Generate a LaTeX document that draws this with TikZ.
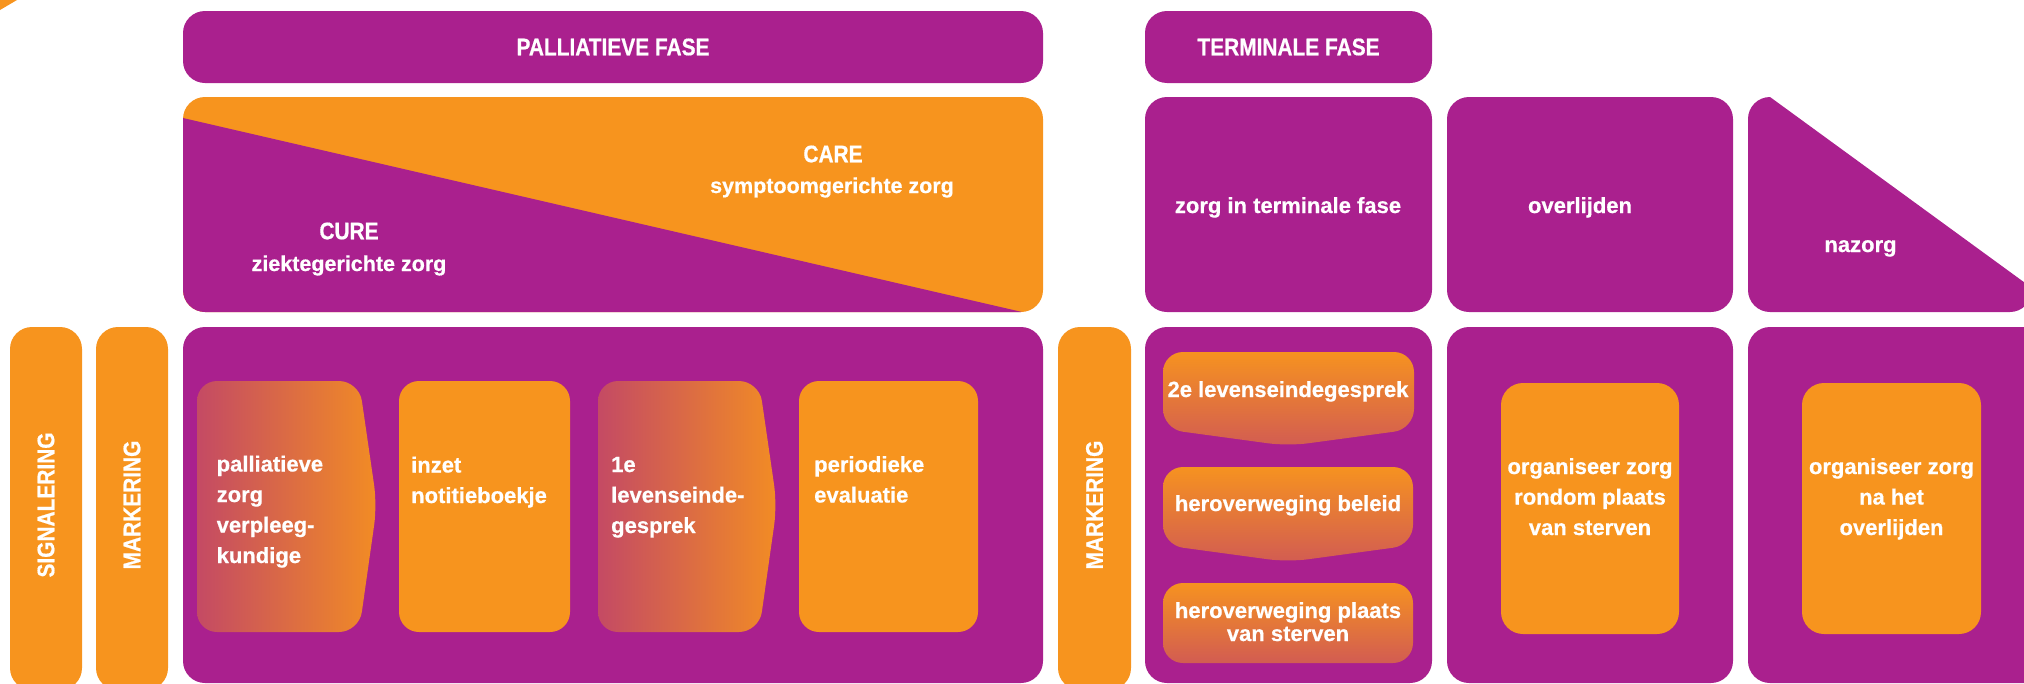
\documentclass[tikz,border=0pt]{standalone}
\usepackage{fontspec}
\setmainfont{Liberation Sans}
\newfontfamily\bodyfont{Liberation Sans Bold}[FakeBold=0.6]
\newfontfamily\capsfont{Liberation Sans Bold}[FakeStretch=0.87,FakeBold=0.6]
\definecolor{pur}{RGB}{170,32,142}
\definecolor{org}{RGB}{247,148,30}
\definecolor{gl}{RGB}{196,74,100}
\definecolor{gr}{RGB}{242,140,36}
\definecolor{gt}{RGB}{246,146,32}
\definecolor{gb}{RGB}{210,92,82}
\begin{document}
\begin{tikzpicture}[x=1pt,y=-1pt,
  pbox/.style={fill=pur, rounded corners=22pt},
  obox/.style={fill=org, rounded corners=22pt},
  hgrad/.style={left color=gl, right color=gr, rounded corners=20pt},
  vgrad/.style={top color=gt, bottom color=gb, rounded corners=20pt},
  captxt/.style={text=white, inner sep=0pt, font=\capsfont\fontsize{24}{28}\selectfont},
  lowtxt/.style={text=white, inner sep=0pt, font=\bodyfont\fontsize{22}{30.5}\selectfont},
  lefttxt/.style={lowtxt, align=left, anchor=base west},
  midtxt/.style={lowtxt, align=center, anchor=base}
]
\useasboundingbox (0,0) rectangle (2024,683);
\clip (0,0) rectangle (2024,683);
% corner mark
\fill[org] (0,0) -- (17,0) -- (0,10) -- cycle;
% ---- row 1
\fill[pbox] (183,11) rectangle (1043,83);
\node[captxt] (pal) at (613,47) {PALLIATIEVE FASE};
\fill[pbox] (1145,11) rectangle (1432,83);
\node[captxt] (ter) at (1288.5,47) {TERMINALE FASE};
% ---- row 2
\fill[obox] (183,97) rectangle (1043,312);
\begin{scope}
  \clip[rounded corners=22pt] (183,97) rectangle (1043,312);
  \fill[pur] (183,118) -- (1022,312) -- (183,312) -- cycle;
\end{scope}
\node[captxt] (care) at (833,154) {CARE};
\node[midtxt, font=\bodyfont\fontsize{21.5}{26}\selectfont] (caresub) at (832,193) {symptoomgerichte zorg};
\node[captxt] (cure) at (349,231) {CURE};
\node[midtxt, font=\bodyfont\fontsize{21.5}{26}\selectfont] (curesub) at (349,271) {ziektegerichte zorg};
\fill[pbox] (1145,97) rectangle (1432,312);
\node[midtxt] (zterm) at (1288,213) {zorg in terminale fase};
\fill[pbox] (1447,97) rectangle (1733,312);
\node[midtxt] (overl) at (1580,213) {overlijden};
\fill[pur] (1748,119) .. controls (1748,106.85) and (1757.85,97) .. (1770,97)
  -- (2032,288) -- (2032,290) .. controls (2032,302) and (2022,312) .. (2010,312)
  -- (1770,312) .. controls (1757.85,312) and (1748,302.15) .. (1748,290) -- cycle;
\node[midtxt] (naz) at (1860.5,252) {nazorg};
% ---- row 3
\fill[obox] (10,327) rectangle (82,690);
\node[captxt, rotate=90] (sig) at (46,505) {SIGNALERING};
\fill[obox] (96,327) rectangle (168,690);
\node[captxt, rotate=90] (mark1) at (132,505) {MARKERING};
\fill[pbox] (183,327) rectangle (1043,683);
\shade[hgrad] (197,381) -- (359,381) -- (377,505) -- (359,632) -- (197,632) -- cycle;
\node[lefttxt] (pzv) at (216.5,563) {palliatieve\\zorg\\verpleeg-\\kundige};
\fill[obox, rounded corners=20pt] (399,381) rectangle (570,632);
\node[lefttxt] (inz) at (411,503) {inzet\\notitieboekje};
\shade[hgrad] (598,381) -- (759,381) -- (777,505) -- (759,632) -- (598,632) -- cycle;
\node[lefttxt] (leg1) at (611,533) {1e\\levenseinde-\\gesprek};
\fill[obox, rounded corners=20pt] (799,381) rectangle (978,632);
\node[lefttxt] (per) at (814,502.5) {periodieke\\evaluatie};
\fill[obox] (1058,327) rectangle (1131,690);
\node[captxt, rotate=90] (mark2) at (1094.5,505) {MARKERING};
\fill[pbox] (1145,327) rectangle (1432,683);
\shade[vgrad] (1163,352) -- (1414,352) -- (1414,429) -- (1288,446) -- (1163,429) -- cycle;
\node[midtxt] (leg2) at (1288,397) {2e levenseindegesprek};
\shade[vgrad] (1163,467) -- (1413,467) -- (1413,545) -- (1288,562) -- (1163,545) -- cycle;
\node[midtxt] (herb) at (1288,511) {heroverweging beleid};
\shade[vgrad] (1163,583) rectangle (1413,663);
\node[midtxt, font=\bodyfont\fontsize{22}{23}\selectfont] (herp) at (1288,641) {heroverweging plaats\\van sterven};
\fill[pbox] (1447,327) rectangle (1733,683);
\fill[obox] (1501,383) rectangle (1679,634);
\node[midtxt] (orgp) at (1590,535) {organiseer zorg\\rondom plaats\\van sterven};
\fill[pbox] (1748,327) rectangle (2046,683);
\fill[obox] (1802,383) rectangle (1981,634);
\node[midtxt] (orgn) at (1891.5,535) {organiseer zorg\\na het\\overlijden};
\end{tikzpicture}
\end{document}
